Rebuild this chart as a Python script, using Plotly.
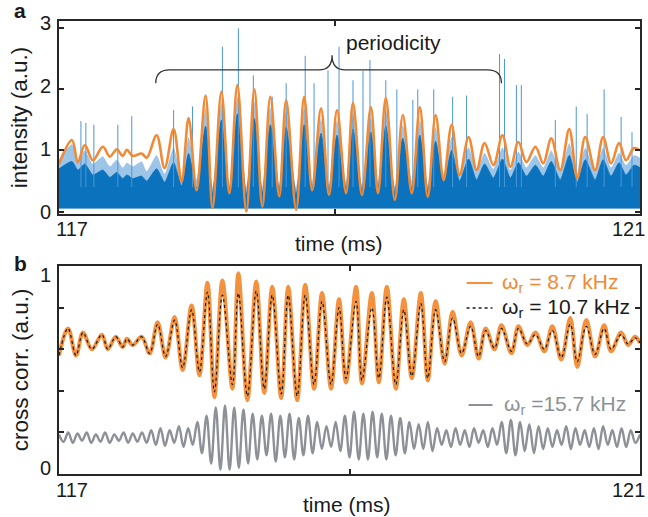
import plotly.graph_objects as go
import numpy as np

# ---------------- Panel a data ----------------
# smoothed intensity (orange): extrema
a_time = [117.000, 117.089, 117.130, 117.178, 117.233, 117.302, 117.350, 117.398, 117.439, 117.467,
          117.508, 117.569, 117.604, 117.672, 117.727, 117.789, 117.844, 117.892, 117.947, 118.009,
          118.057, 118.118, 118.173, 118.228, 118.290, 118.345, 118.400, 118.455, 118.516, 118.564,
          118.633, 118.688, 118.743, 118.804, 118.859, 118.914, 118.976, 119.024, 119.086, 119.147,
          119.196, 119.250, 119.312, 119.367, 119.429, 119.484, 119.539, 119.593, 119.648, 119.703,
          119.758, 119.820, 119.875, 119.930, 119.991, 120.053, 120.108, 120.163, 120.218, 120.280,
          120.334, 120.389, 120.451, 120.513, 120.568, 120.623, 120.691, 120.746, 120.801, 120.856,
          120.904, 120.959, 121.000]
a_smooth = [0.78, 1.17, 0.81, 1.09, 0.84, 1.06, 0.90, 1.02, 0.91, 1.01,
            0.91, 0.95, 0.88, 1.25, 0.71, 1.35, 0.49, 1.53, 0.35, 1.90,
            0.06, 1.96, 0.30, 2.07, 0.00, 2.00, 0.08, 1.88, 0.25, 1.82,
            0.03, 1.88, 0.35, 1.69, 0.27, 1.66, 0.30, 1.78, 0.27, 1.71,
            0.30, 1.86, 0.19, 1.58, 0.30, 1.71, 0.24, 1.58, 0.52, 1.42,
            0.60, 1.22, 0.68, 1.12, 0.76, 1.25, 0.73, 1.14, 0.81, 1.06,
            0.79, 1.20, 0.68, 1.35, 0.55, 1.22, 0.68, 1.22, 0.79, 1.12,
            0.84, 1.04, 1.00]
# raw photon signal (blue): dense band top and lighter streak top at the same times
a_blue_dense = [0.70, 0.82, 0.68, 0.78, 0.60, 0.68, 0.56, 0.64, 0.54, 0.60,
                0.54, 0.58, 0.50, 0.70, 0.48, 0.80, 0.42, 0.95, 0.38, 1.40,
                0.30, 1.50, 0.35, 1.60, 0.28, 1.52, 0.30, 1.42, 0.35, 1.38,
                0.28, 1.42, 0.38, 1.28, 0.35, 1.25, 0.38, 1.35, 0.35, 1.30,
                0.38, 1.40, 0.32, 1.20, 0.38, 1.25, 0.35, 1.15, 0.48, 1.00,
                0.50, 0.86, 0.52, 0.78, 0.55, 0.86, 0.55, 0.80, 0.58, 0.76,
                0.58, 0.82, 0.52, 0.92, 0.48, 0.85, 0.52, 0.85, 0.58, 0.80,
                0.60, 0.76, 0.72]
a_blue_light = [0.85, 1.10, 0.85, 1.00, 0.78, 0.90, 0.74, 0.85, 0.72, 0.80,
                0.74, 0.82, 0.66, 0.92, 0.62, 1.05, 0.56, 1.22, 0.52, 1.70,
                0.40, 1.78, 0.45, 1.88, 0.40, 1.80, 0.40, 1.70, 0.45, 1.65,
                0.40, 1.70, 0.50, 1.52, 0.45, 1.50, 0.50, 1.60, 0.45, 1.54,
                0.50, 1.66, 0.42, 1.42, 0.50, 1.50, 0.45, 1.38, 0.62, 1.22,
                0.64, 1.05, 0.66, 0.96, 0.70, 1.05, 0.68, 0.98, 0.72, 0.92,
                0.72, 1.00, 0.66, 1.12, 0.62, 1.04, 0.66, 1.04, 0.72, 0.96,
                0.76, 0.92, 0.88]
# tall single-photon spikes
spike_time = [117.151, 117.185, 117.240, 117.405, 117.501, 117.789, 117.919, 118.125, 118.235, 118.338,
              118.468, 118.564, 118.695, 118.756, 118.852, 118.928, 119.024, 119.093, 119.141, 119.250,
              119.326, 119.436, 119.470, 119.580, 119.710, 119.806, 120.033, 120.067, 120.149, 120.183,
              120.417, 120.561, 120.636, 120.753, 120.870, 120.945]
spike_height = [1.48, 1.45, 1.42, 1.42, 1.56, 1.66, 1.72, 2.70, 3.00, 2.23,
                1.88, 2.10, 2.55, 2.10, 2.31, 2.70, 2.15, 2.30, 2.48, 2.15,
                2.00, 1.83, 2.00, 2.00, 1.88, 1.90, 2.58, 2.50, 2.07, 2.07,
                1.50, 1.72, 1.60, 2.00, 1.55, 1.30]

# ---------------- Panel b data ----------------
b_time = [117.000, 117.062, 117.117, 117.165, 117.226, 117.295, 117.336, 117.391, 117.439, 117.467,
          117.508, 117.569, 117.624, 117.679, 117.734, 117.796, 117.851, 117.913, 117.967, 118.022,
          118.070, 118.125, 118.194, 118.235, 118.297, 118.358, 118.413, 118.468, 118.530, 118.578,
          118.640, 118.695, 118.756, 118.811, 118.873, 118.928, 118.976, 119.045, 119.086, 119.154,
          119.202, 119.257, 119.319, 119.374, 119.429, 119.491, 119.539, 119.593, 119.655, 119.710,
          119.772, 119.834, 119.889, 119.937, 119.998, 120.046, 120.115, 120.163, 120.225, 120.280,
          120.341, 120.396, 120.458, 120.520, 120.568, 120.630, 120.691, 120.753, 120.801, 120.870,
          120.918, 120.966, 121.000]
b_87 = [0.57, 0.70, 0.57, 0.68, 0.60, 0.67, 0.60, 0.66, 0.61, 0.65,
        0.62, 0.66, 0.58, 0.73, 0.56, 0.755, 0.50, 0.81, 0.475, 0.92,
        0.37, 0.93, 0.41, 0.965, 0.355, 0.925, 0.39, 0.90, 0.365, 0.90,
        0.355, 0.91, 0.41, 0.87, 0.41, 0.84, 0.44, 0.90, 0.435, 0.87,
        0.44, 0.90, 0.41, 0.84, 0.46, 0.87, 0.45, 0.83, 0.53, 0.78,
        0.57, 0.73, 0.555, 0.70, 0.60, 0.715, 0.58, 0.71, 0.62, 0.68,
        0.59, 0.71, 0.55, 0.75, 0.515, 0.74, 0.565, 0.715, 0.59, 0.68,
        0.62, 0.66, 0.63]
b_107 = [0.57, 0.70, 0.57, 0.68, 0.60, 0.67, 0.60, 0.66, 0.61, 0.65,
         0.62, 0.66, 0.58, 0.72, 0.565, 0.74, 0.51, 0.79, 0.49, 0.875,
         0.395, 0.86, 0.43, 0.87, 0.375, 0.88, 0.41, 0.86, 0.385, 0.86,
         0.375, 0.86, 0.43, 0.83, 0.43, 0.80, 0.46, 0.83, 0.45, 0.80,
         0.46, 0.85, 0.43, 0.79, 0.47, 0.82, 0.46, 0.79, 0.54, 0.75,
         0.58, 0.71, 0.565, 0.69, 0.605, 0.70, 0.59, 0.70, 0.625, 0.67,
         0.60, 0.69, 0.56, 0.72, 0.54, 0.71, 0.575, 0.70, 0.60, 0.67,
         0.625, 0.655, 0.63]
# omega_r = 15.7 kHz: successive extrema, evenly spaced half periods
gray_vals = [0.19, 0.155, 0.20, 0.15, 0.195, 0.16, 0.20, 0.15, 0.19, 0.155, 0.20, 0.15, 0.19, 0.16, 0.20, 0.15, 0.195, 0.155, 0.20, 0.15,
             0.21, 0.14, 0.22, 0.135, 0.21, 0.15, 0.23, 0.13, 0.22, 0.14,
             0.25, 0.10, 0.28, 0.05,
             0.32, 0.02, 0.33, 0.02, 0.32, 0.03, 0.31, 0.05,
             0.29, 0.07, 0.28, 0.09, 0.29, 0.06, 0.28, 0.08, 0.29, 0.07, 0.27, 0.09, 0.28, 0.10,
             0.25, 0.12, 0.23, 0.13, 0.25, 0.11,
             0.28, 0.08, 0.30, 0.07, 0.29, 0.07, 0.30, 0.08, 0.29, 0.07, 0.28, 0.09, 0.27, 0.10,
             0.25, 0.12, 0.24, 0.12, 0.25, 0.11,
             0.22, 0.14, 0.21, 0.13, 0.22, 0.14, 0.21, 0.13, 0.22, 0.15, 0.21, 0.13, 0.22, 0.14,
             0.25, 0.10, 0.26, 0.09, 0.25, 0.11, 0.24, 0.10, 0.23, 0.12,
             0.22, 0.13, 0.21, 0.14, 0.23, 0.12, 0.22, 0.14, 0.21, 0.13, 0.22, 0.12, 0.23, 0.14, 0.21, 0.13, 0.22, 0.13, 0.21, 0.15, 0.19]
gray_time = list(np.linspace(117.0, 121.0, len(gray_vals)))

# ---------------- layout geometry (page pixels; body margin removed in post_script) ----------------
W, H = 648, 517
PL, PR, PT, PB = 59, 642, 21, 474          # plot-area edges in page pixels
L, R, T, B = PL, W - PR, PT, H - PB
PW, PH = PR - PL, PB - PT

def xp(x):
    return (x - PL) / PW

def yp(y):
    return (PB - y) / PH

FONT = "Liberation Sans, Arial, sans-serif"
ORANGE_A = "#F08A36"
ORANGE_B = "#F3913F"
BLUE = "#0B72BE"
GRAY = "#8D9197"
FRAME = "#262626"

fig = go.Figure()

# ---- Panel a ----
base = 0.05
fig.add_trace(go.Scatter(x=[117, 121], y=[base, base], mode="lines", line=dict(width=0),
                         xaxis="x", yaxis="y", hoverinfo="skip", showlegend=False))
fig.add_trace(go.Scatter(x=a_time, y=a_blue_light, mode="lines", fill="tonexty",
                         fillcolor="rgba(60,140,210,0.5)", line=dict(width=0, shape="spline", smoothing=0.6),
                         xaxis="x", yaxis="y", showlegend=False))
fig.add_trace(go.Scatter(x=[117, 121], y=[base, base], mode="lines", line=dict(width=0),
                         xaxis="x", yaxis="y", hoverinfo="skip", showlegend=False))
fig.add_trace(go.Scatter(x=a_time, y=a_blue_dense, mode="lines", fill="tonexty",
                         fillcolor=BLUE, line=dict(width=0.8, color=BLUE, shape="spline", smoothing=0.6),
                         xaxis="x", yaxis="y", showlegend=False))
sx, sy = [], []
for t, h in zip(spike_time, spike_height):
    sx += [t, t, None]
    sy += [0.4, h, None]
fig.add_trace(go.Scatter(x=sx, y=sy, mode="lines", line=dict(width=1, color="#4B97D6"),
                         xaxis="x", yaxis="y", showlegend=False))
fig.add_trace(go.Scatter(x=a_time, y=a_smooth, mode="lines",
                         line=dict(width=2.6, color=ORANGE_A, shape="spline", smoothing=1.0),
                         xaxis="x", yaxis="y", showlegend=False))

# ---- Panel b ----
fig.add_trace(go.Scatter(x=b_time, y=b_87, mode="lines",
                         line=dict(width=4, color=ORANGE_B, shape="spline", smoothing=1.0),
                         xaxis="x2", yaxis="y2", showlegend=False))
fig.add_trace(go.Scatter(x=b_time, y=b_107, mode="lines",
                         line=dict(width=1.2, color="#1a1a1a", dash="dot", shape="spline", smoothing=1.0),
                         xaxis="x2", yaxis="y2", showlegend=False))
fig.add_trace(go.Scatter(x=gray_time, y=gray_vals, mode="lines",
                         line=dict(width=2.4, color=GRAY, shape="spline", smoothing=1.0),
                         xaxis="x2", yaxis="y2", showlegend=False))

axis_common = dict(showline=True, linewidth=2, linecolor=FRAME, mirror="ticks", ticks="inside",
                   ticklen=5, tickwidth=1.5, tickcolor=FRAME, showgrid=False, zeroline=False,
                   showticklabels=False)

fig.update_layout(
    width=W, height=H,
    margin=dict(l=L, r=R, t=T, b=B),
    paper_bgcolor="white", plot_bgcolor="white",
    font=dict(family=FONT, size=20, color="#1a1a1a"),
    xaxis=dict(domain=[0, 1], range=[117, 121], tickvals=[117, 118.9, 121], anchor="y", **axis_common),
    yaxis=dict(domain=[yp(214), 1], range=[-0.04, 3.12], tickvals=[0, 1, 2, 3], anchor="x", **axis_common),
    xaxis2=dict(domain=[0, 1], range=[117, 121], tickvals=[117, 119, 121], anchor="y2", **axis_common),
    yaxis2=dict(domain=[0, yp(266)], range=[0, 1], tickvals=[0, 0.2, 0.4, 0.6, 0.8, 1], anchor="x2", **axis_common),
)

ann = []
def text(x, y, s, size=20, color="#1a1a1a", xanchor="center", bold=False, angle=0):
    ann.append(dict(x=xp(x), y=yp(y), xref="paper", yref="paper", text=("<b>%s</b>" % s) if bold else s,
                    showarrow=False, xanchor=xanchor, yanchor="middle", textangle=angle,
                    font=dict(family=FONT, size=size, color=color)))

# panel letters
text(20, 10, "a", size=21, bold=True)
text(20, 263, "b", size=21, bold=True)
# tick labels panel a
text(53, 23, "3", xanchor="right")
text(53, 86, "2", xanchor="right")
text(53, 149, "1", xanchor="right")
text(53, 212, "0", xanchor="right")
text(72, 229, "117")
text(630, 229, "121")
text(340, 244, "time (ms)", size=21)
text(20, 118, "intensity (a.u.)", size=22.5, angle=-90)
# tick labels panel b
text(53, 275, "1", xanchor="right")
text(53, 468, "0", xanchor="right")
text(72, 490, "117")
text(630, 490, "121")
text(348, 505, "time (ms)", size=21)
text(20, 370, "cross corr. (a.u.)", size=22.5, angle=-90)
# periodicity label
text(345, 42, "periodicity", size=21, xanchor="left")
# legend texts
text(502, 283, "ω<sub>r</sub> = 8.7 kHz", size=21, color=ORANGE_A, xanchor="left")
text(502, 308, "ω<sub>r</sub> = 10.7 kHz", size=21, color="#1a1a1a", xanchor="left")
text(504, 405, "ω<sub>r</sub> =15.7 kHz", size=21, color=GRAY, xanchor="left")
fig.update_layout(annotations=ann)

shapes = []
# curly brace for "periodicity" (panel a data coordinates)
brace = ("M 117.666,2.10 Q 117.666,2.32 117.76,2.32 L 118.79,2.32 "
         "Q 118.88,2.32 118.88,2.56 Q 118.88,2.32 118.97,2.32 L 119.95,2.32 "
         "Q 120.046,2.32 120.046,2.10")
shapes.append(dict(type="path", path=brace, xref="x", yref="y", line=dict(color="#333333", width=1.3)))
# legend line samples
def seg(x0, x1, y, color, width, dash="solid"):
    shapes.append(dict(type="line", xref="paper", yref="paper", x0=xp(x0), x1=xp(x1), y0=yp(y), y1=yp(y),
                       line=dict(color=color, width=width, dash=dash)))
seg(468, 494, 283, ORANGE_B, 2)
seg(468, 494, 308, "#1a1a1a", 1.5, "dot")
seg(470, 494, 405, GRAY, 2)
fig.update_layout(shapes=shapes)

fig.write_html("out.html", config={"displayModeBar": False},
               post_script="document.body.style.margin='0';document.body.style.overflow='hidden';")
